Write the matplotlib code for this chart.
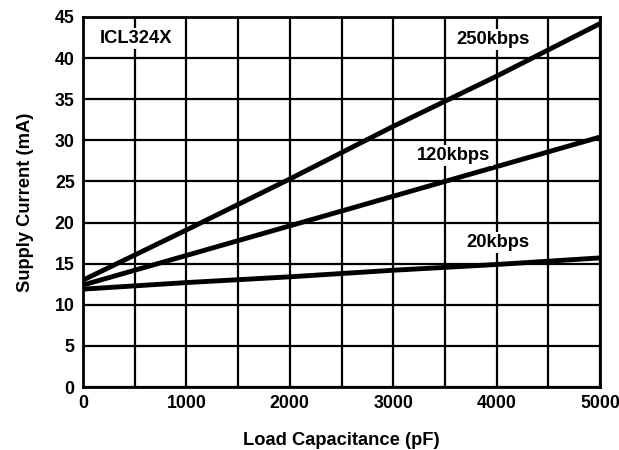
import matplotlib
matplotlib.use("Agg")
import matplotlib.pyplot as plt

plt.rcParams['font.family'] = ['Liberation Sans', 'DejaVu Sans']
plt.rcParams['font.weight'] = 'bold'

cap_pf = [0, 1000, 2000, 3000, 4000, 5000]
i_250 = [13.0, 19.1, 25.3, 31.7, 37.8, 44.2]
i_120 = [12.4, 16.0, 19.6, 23.2, 26.8, 30.4]
i_20 = [11.9, 12.7, 13.4, 14.2, 14.9, 15.7]

xticks = [0, 1000, 2000, 3000, 4000, 5000]
yticks = [0, 5, 10, 15, 20, 25, 30, 35, 40, 45]

fig = plt.figure(figsize=(6.19, 4.5), dpi=100)
ax = fig.add_axes([83/619, 1-387/450, (600-83)/619, (387-17)/450])

ax.set_xlim(0, 5000)
ax.set_ylim(0, 45)
ax.set_xticks(xticks)
ax.set_xticks(range(500, 5000, 1000), minor=True)
ax.set_yticks(yticks)
ax.grid(True, which='both', color='black', linewidth=1.6)
ax.set_axisbelow(True)
ax.tick_params(which='both', length=0, labelsize=12.8, pad=6)
for lab in ax.get_xticklabels() + ax.get_yticklabels():
    lab.set_fontweight('bold')
for s in ax.spines.values():
    s.set_linewidth(2)

for ys in (i_250, i_120, i_20):
    ax.plot(cap_pf, ys, color='black', linewidth=3.5, solid_capstyle='butt', zorder=3)

bbox = dict(facecolor='white', edgecolor='none', pad=1.5)
fs = 13.2
ax.text(164, 42.4, 'ICL324X', fontsize=fs, fontweight='bold', ha='left', va='center', bbox=bbox, zorder=4)
ax.text(3965, 42.3, '250kbps', fontsize=fs, fontweight='bold', ha='center', va='center', bbox=bbox, zorder=4)
ax.text(3588, 28.2, '120kbps', fontsize=fs, fontweight='bold', ha='center', va='center', bbox=bbox, zorder=4)
ax.text(4014, 17.6, '20kbps', fontsize=fs, fontweight='bold', ha='center', va='center', bbox=bbox, zorder=4)

ax.set_xlabel('Load Capacitance (pF)', fontsize=fs, fontweight='bold', labelpad=14)
ax.set_ylabel('Supply Current (mA)', fontsize=fs, fontweight='bold', labelpad=15)

fig.savefig('out.png', dpi=100)
